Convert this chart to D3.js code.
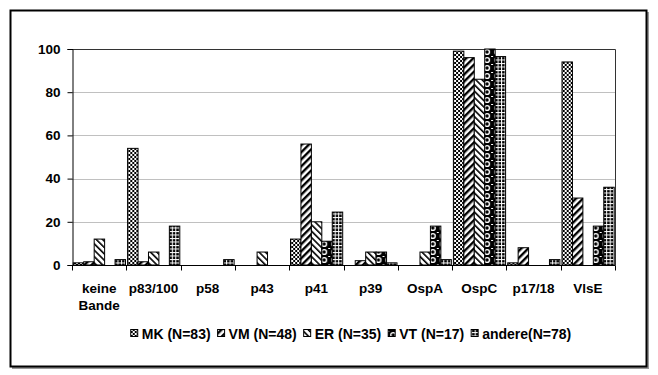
<!DOCTYPE html>
<html>
<head>
<meta charset="utf-8">
<script src="https://cdn.jsdelivr.net/npm/d3@7"></script>
<style>
  body { margin: 0; background: #fff; }
  text { font-family: "Liberation Sans", Arial, sans-serif; font-weight: bold; }
</style>
</head>
<body>
<div id="chart"></div>
<script>
var categories = ["keine Bande", "p83/100", "p58", "p43", "p41", "p39", "OspA", "OspC", "p17/18", "VlsE"];
var seriesNames = ["MK (N=83)", "VM (N=48)", "ER (N=35)", "VT (N=17)", "andere(N=78)"];
var mk     = [1, 54, 0, 0, 12, 0, 0, 99, 1, 94];
var vm     = [1.5, 1.5, 0, 0, 56, 2, 0, 96, 8, 31];
var er     = [12, 6, 0, 6, 20, 6, 6, 86, 0, 0];
var vt     = [0, 0, 0, 0, 11, 6, 18, 100, 0, 18];
var andere = [2.5, 18, 2.5, 0, 24.5, 1, 2.5, 96.5, 2.5, 36];
var yTicks = [0, 20, 40, 60, 80, 100];

var allSeries = [mk, vm, er, vt, andere];

var width = 658, height = 375,
  plot = {left: 72, right: 615, top: 49, bottom: 265};

var svg = d3.select("#chart").append("svg")
  .attr("width", width)
  .attr("height", height);

// fill patterns (Excel style)
var defs = svg.append("defs");

var p0 = defs.append("pattern").attr("id", "pat0").attr("patternUnits", "userSpaceOnUse")
  .attr("width", 4).attr("height", 4);
p0.append("rect").attr("width", 4).attr("height", 4).attr("fill", "#fff");
p0.append("rect").attr("width", 2).attr("height", 2).attr("fill", "#000");
p0.append("rect").attr("x", 2).attr("y", 2).attr("width", 2).attr("height", 2).attr("fill", "#000");

var p1 = defs.append("pattern").attr("id", "pat1").attr("patternUnits", "userSpaceOnUse")
  .attr("width", 5).attr("height", 5).attr("patternTransform", "rotate(45)");
p1.append("rect").attr("width", 5).attr("height", 5).attr("fill", "#fff");
p1.append("rect").attr("width", 2.4).attr("height", 5).attr("fill", "#000");

var p2 = defs.append("pattern").attr("id", "pat2").attr("patternUnits", "userSpaceOnUse")
  .attr("width", 4.5).attr("height", 4.5).attr("patternTransform", "rotate(-45)");
p2.append("rect").attr("width", 4.5).attr("height", 4.5).attr("fill", "#fff");
p2.append("rect").attr("width", 1.6).attr("height", 4.5).attr("fill", "#000");

var p3 = defs.append("pattern").attr("id", "pat3").attr("patternUnits", "userSpaceOnUse")
  .attr("width", 10).attr("height", 8);
p3.append("rect").attr("width", 10).attr("height", 8).attr("fill", "#000");
p3.append("circle").attr("cx", 5).attr("cy", 4).attr("r", 2.4)
  .attr("fill", "none").attr("stroke", "#fff").attr("stroke-width", 1.4);
p3.append("rect").attr("x", 0).attr("y", 0).attr("width", 1).attr("height", 1).attr("fill", "#fff");
p3.append("rect").attr("x", 9).attr("y", 0).attr("width", 1).attr("height", 1).attr("fill", "#fff");

var p4 = defs.append("pattern").attr("id", "pat4").attr("patternUnits", "userSpaceOnUse")
  .attr("width", 3.5).attr("height", 3.5);
p4.append("rect").attr("width", 3.5).attr("height", 3.5).attr("fill", "#000");
p4.append("rect").attr("width", 3.5).attr("height", 1).attr("fill", "#fff");
p4.append("rect").attr("width", 1).attr("height", 3.5).attr("fill", "#fff");

// outer frame with shadow
svg.append("rect").attr("x", 12).attr("y", 12).attr("width", 637).attr("height", 357)
  .attr("fill", "#999");
svg.append("rect").attr("x", 10.5).attr("y", 10.5).attr("width", 636).attr("height", 356)
  .attr("fill", "#fff").attr("stroke", "#000").attr("stroke-width", 2);

var x0 = d3.scaleBand().domain(categories).range([plot.left, plot.right]).paddingInner(0);
var x1 = d3.scaleBand().domain(d3.range(seriesNames.length))
  .range([1.3, x0.bandwidth() - 0.8]);
var y = d3.scaleLinear().domain([0, 100]).range([plot.bottom, plot.top]);

// gridlines
svg.append("g").selectAll("line")
  .data(yTicks.filter(function (d) { return d > 0 && d < 100; }))
  .enter().append("line")
  .attr("x1", plot.left).attr("x2", plot.right)
  .attr("y1", function (d) { return Math.round(y(d)) + 0.5; })
  .attr("y2", function (d) { return Math.round(y(d)) + 0.5; })
  .attr("stroke", "#c0c0c0").attr("stroke-width", 1);

// plot area border (top/right)
svg.append("path")
  .attr("d", "M" + plot.left + "," + (plot.top + 0.5) + "H" + (plot.right + 0.5) + "V" + plot.bottom)
  .attr("fill", "none").attr("stroke", "#333").attr("stroke-width", 1);

// bars
var groups = svg.append("g").selectAll("g")
  .data(categories)
  .enter().append("g")
  .attr("transform", function (d) { return "translate(" + x0(d) + ",0)"; });

groups.selectAll("rect")
  .data(function (d, i) {
    return allSeries.map(function (s, j) { return {s: j, v: s[i]}; })
      .filter(function (e) { return e.v > 0; });
  })
  .enter().append("rect")
  .attr("x", function (d) { return x1(d.s); })
  .attr("width", x1.bandwidth())
  .attr("y", function (d) { return y(d.v); })
  .attr("height", function (d) { return y(0) - y(d.v); })
  .attr("fill", function (d) { return "url(#pat" + d.s + ")"; })
  .attr("stroke", "#000").attr("stroke-width", 1);

// y axis
var yAxis = d3.axisLeft(y).tickValues(yTicks).tickSize(5).tickPadding(7);
var yg = svg.append("g").attr("transform", "translate(" + (plot.left + 0.5) + ",0)").call(yAxis);
yg.select(".domain").attr("stroke", "#000");
yg.selectAll("text").attr("font-size", "13.5px").attr("fill", "#000")
  .style("font-family", "'Liberation Sans', Arial, sans-serif").style("font-weight", "bold");

// x axis
var xg = svg.append("g").attr("transform", "translate(0," + (plot.bottom + 0.5) + ")");
xg.append("line").attr("x1", plot.left).attr("x2", plot.right + 0.5).attr("stroke", "#000");
xg.selectAll("line.tick")
  .data(d3.range(categories.length + 1))
  .enter().append("line").attr("class", "tick")
  .attr("x1", function (i) { return Math.round(plot.left + i * x0.step()) + 0.5; })
  .attr("x2", function (i) { return Math.round(plot.left + i * x0.step()) + 0.5; })
  .attr("y1", 0).attr("y2", 5).attr("stroke", "#000");

var labels = svg.append("g").selectAll("text")
  .data(categories)
  .enter().append("text")
  .attr("text-anchor", "middle")
  .attr("font-size", "13.5px")
  .attr("fill", "#000");
labels.each(function (d) {
  var t = d3.select(this);
  d.split(" ").forEach(function (w, k) {
    t.append("tspan")
      .attr("x", x0(d) + x0.bandwidth() / 2)
      .attr("y", 293 + k * 17)
      .text(w);
  });
});

// legend
var legend = svg.append("g");
var items = legend.selectAll("g").data(seriesNames).enter().append("g");
items.append("rect")
  .attr("width", 7).attr("height", 7).attr("y", -9.5)
  .attr("fill", function (d, i) { return "url(#pat" + i + ")"; })
  .attr("stroke", "#000").attr("stroke-width", 1);
items.append("text")
  .attr("x", 11)
  .attr("font-size", "14px")
  .attr("fill", "#000")
  .text(function (d) { return d; });
var xPos = 0, offsets = [];
items.each(function () {
  offsets.push(xPos);
  xPos += 11 + this.querySelector("text").getComputedTextLength() + 7;
});
var total = xPos - 7;
items.attr("transform", function (d, i) { return "translate(" + offsets[i] + ",0)"; });
legend.attr("transform", "translate(" + (351 - total / 2) + ",339)");
</script>
</body>
</html>
